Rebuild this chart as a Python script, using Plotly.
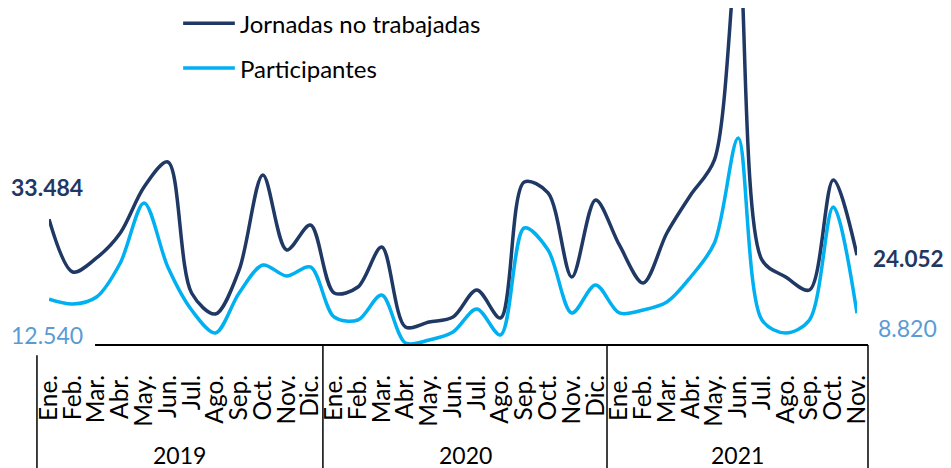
import plotly.graph_objects as go

meses = ["Ene.", "Feb.", "Mar.", "Abr.", "May.", "Jun.",
         "Jul.", "Ago.", "Sep.", "Oct.", "Nov.", "Dic."]
anios = ["2019"] * 12 + ["2020"] * 12 + ["2021"] * 11
meses_x = meses * 2 + meses[:11]
etiquetas = [m + " " + a for m, a in zip(meses_x, anios)]

jornadas = [33484, 19650, 23318, 29868, 41920, 48470, 14148, 8646, 20174, 45064, 25414, 31964,
            14148, 15720, 26200, 5240, 6550, 7860, 14934, 7598, 43230, 40348, 18340, 38514,
            26724, 16768, 29868, 39824, 48994, 104014, 22794, 18340, 14934, 43754, 24052]
participantes = [12540, 11266, 13100, 22008, 37728, 20960, 9694, 3668, 14148, 21484, 18602, 20960,
                 7860, 7074, 13624, 1048, 1834, 3930, 9956, 3144, 31178, 25414, 8908, 16244,
                 8908, 9694, 11790, 18340, 27248, 54758, 7074, 3668, 7074, 36680, 8820]

oscuro = "#1F3864"
claro = "#00B0F0"
etiqueta_claro = "#5B9BD5"
fuente = "Lato"

fig = go.Figure()
fig.add_trace(go.Scatter(x=etiquetas, y=jornadas, name="Jornadas no trabajadas",
                         mode="lines", line=dict(color=oscuro, width=3.5, shape="spline", smoothing=0.9)))
fig.add_trace(go.Scatter(x=etiquetas, y=participantes, name="Participantes",
                         mode="lines", line=dict(color=claro, width=3.5, shape="spline", smoothing=0.9)))

fig.update_layout(
    width=943, height=460,
    margin=dict(l=41, r=94, t=0, b=121),
    plot_bgcolor="white", paper_bgcolor="white",
    font=dict(family=fuente, size=23, color="black"),
    showlegend=False,
    xaxis=dict(type="category", tickmode="array", tickvals=etiquetas, ticktext=meses_x,
               tickangle=-90, showgrid=False, showline=False, ticks="", automargin=False,
               ticklabelstandoff=22, tickfont=dict(size=24.5, color="black")),
    yaxis=dict(range=[0, 88800], visible=False, showgrid=False),
)

# eje horizontal y separadores de años
fig.add_shape(type="line", xref="paper", yref="paper", x0=0.057, x1=1.0136, y0=0.006, y1=0.006,
              line=dict(color="black", width=2))
for xs, y0 in [(-0.0149, -0.024), (0.339, 0.006), (0.6906, 0.006), (1.0136, 0.006)]:
    fig.add_shape(type="line", xref="paper", yref="paper", x0=xs, x1=xs, y0=y0, y1=-0.36,
                  line=dict(color="black", width=1.5))

# años
for anio, xa in [("2019", 0.162), ("2020", 0.515), ("2021", 0.852)]:
    fig.add_annotation(xref="paper", yref="paper", x=xa, y=-0.319, text=anio, showarrow=False,
                       xanchor="center", yanchor="middle", font=dict(size=23, color="black"))

# leyenda
for nombre, color, yl in [("Jornadas no trabajadas", oscuro, 0.955), ("Participantes", claro, 0.823)]:
    fig.add_shape(type="line", xref="paper", yref="paper", x0=0.166, x1=0.230, y0=yl, y1=yl,
                  line=dict(color=color, width=3.5))
    fig.add_annotation(xref="paper", yref="paper", x=0.234, y=yl, text=nombre, showarrow=False,
                       xanchor="left", yanchor="middle", font=dict(size=24, color="black"))

# etiquetas de valores inicial y final
fig.add_annotation(xref="paper", yref="paper", x=0.0446, y=0.472, text="<b>33.484</b>",
                   showarrow=False, xanchor="right", yanchor="middle", font=dict(size=23, color=oscuro))
fig.add_annotation(xref="paper", yref="paper", x=0.0446, y=0.036, text="12.540",
                   showarrow=False, xanchor="right", yanchor="middle", font=dict(size=23, color=etiqueta_claro))
fig.add_annotation(xref="paper", yref="paper", x=1.017, y=0.2625, text="<b>24.052</b>",
                   showarrow=False, xanchor="left", yanchor="middle", font=dict(size=22.5, color=oscuro))
fig.add_annotation(xref="paper", yref="paper", x=1.023, y=0.056, text="8.820",
                   showarrow=False, xanchor="left", yanchor="middle", font=dict(size=23, color=etiqueta_claro))

fig.write_html("out.html")
